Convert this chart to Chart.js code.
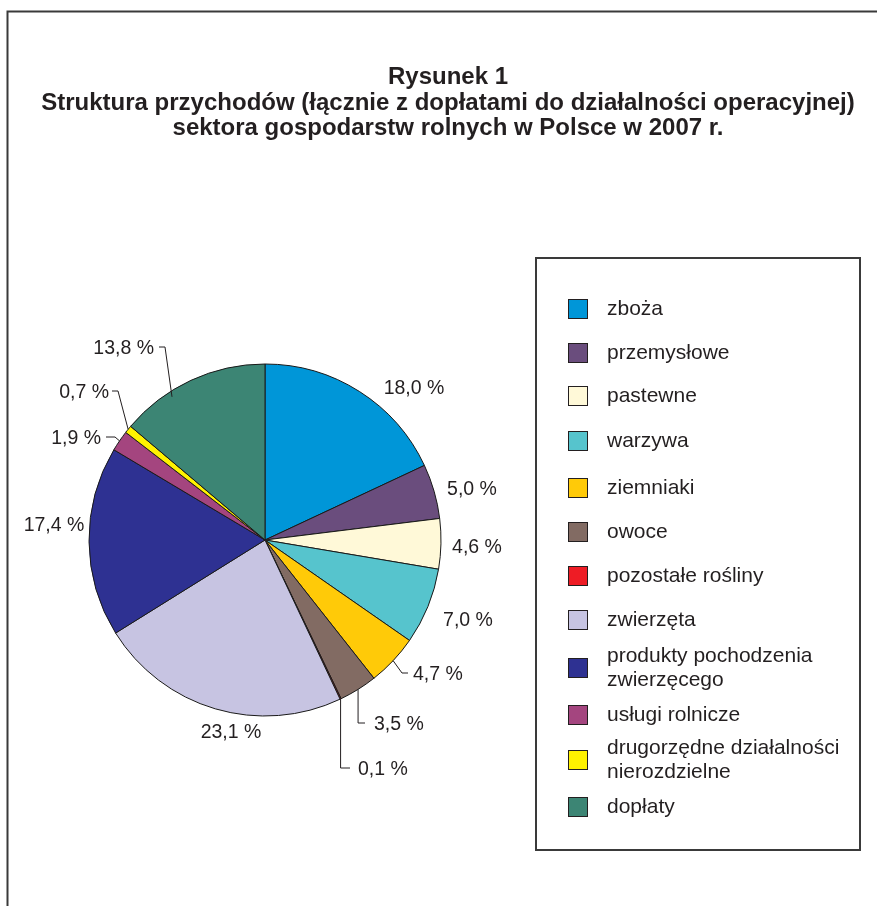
<!DOCTYPE html>
<html lang="pl">
<head>
<meta charset="utf-8">
<title>Struktura przychodów sektora gospodarstw rolnych w Polsce w 2007 r.</title>
<script src="https://cdn.jsdelivr.net/npm/chart.js@4.4.1/dist/chart.umd.min.js"></script>
<style>
  html, body { margin: 0; padding: 0; background: #ffffff; }
  #wrap { position: relative; width: 877px; height: 906px; }
  canvas { display: block; }
</style>
</head>
<body>
<div id="wrap"><canvas id="chart" width="877" height="906"></canvas></div>
<script>
// Revenue structure of Polish farms, 2007 (% of total, incl. operating subsidies)
const categories = [
  'zboża',
  'przemysłowe',
  'pastewne',
  'warzywa',
  'ziemniaki',
  'owoce',
  'pozostałe rośliny',
  'zwierzęta',
  ['produkty pochodzenia', 'zwierzęcego'],
  'usługi rolnicze',
  ['drugorzędne działalności', 'nierozdzielne'],
  'dopłaty'
];
const shares = [18.0, 5.0, 4.6, 7.0, 4.7, 3.5, 0.1, 23.1, 17.4, 1.9, 0.7, 13.8];
const sliceColors = [
  '#0096d8', '#6a4d7d', '#fff9d8', '#56c4cd', '#ffca08', '#826b63',
  '#ee1c25', '#c7c4e2', '#2e3192', '#a4457f', '#fff200', '#3c8574'
];
const titleLines = [
  'Rysunek 1',
  'Struktura przychodów (łącznie z dopłatami do działalności operacyjnej)',
  'sektora gospodarstw rolnych w Polsce w 2007 r.'
];

const INK = '#231f20';
const FONT = '"Liberation Sans", Arial, Helvetica, sans-serif';

// Where each percentage label sits, relative to the pie centre (px),
// and how its leader line is routed.
const labelPlacement = [
  { dx: 149, dy: -153, align: 'center' },
  { dx: 207, dy: -52,  align: 'center' },
  { dx: 212, dy: 6,    align: 'center' },
  { dx: 203, dy: 79,   align: 'center' },
  { dx: 148, dy: 133,  align: 'left',  leader: { elbow: 11, gap: 5 } },
  { dx: 109, dy: 183,  align: 'left',  leader: { elbow: 'vertical', gap: 9 } },
  { dx: 93,  dy: 228,  align: 'left',  leader: { elbow: 'vertical', gap: 8 } },
  { dx: -34, dy: 191,  align: 'center' },
  { dx: -211, dy: -16, align: 'center' },
  { dx: -164, dy: -103, align: 'right', leader: { elbow: 14, gap: 5 } },
  { dx: -156, dy: -149, align: 'right', leader: { elbow: 9, gap: 3 } },
  { dx: -111, dy: -193, align: 'right', leader: { elbow: 11, gap: 5, t: 0.337, r: 0.97 } }
];

// Vertical centre of each legend row inside the framed key
const legendRowY = [309, 353, 396, 441, 488, 532, 576, 620, 668, 715, 760, 807];

const fmtPct = v => v.toFixed(1).replace('.', ',') + ' %';

// Outer frame and centred multi-line heading
const framePlugin = {
  id: 'frameAndTitle',
  beforeDraw(chart) {
    const ctx = chart.ctx;
    ctx.save();
    ctx.fillStyle = '#ffffff';
    ctx.fillRect(0, 0, chart.width, chart.height);
    ctx.strokeStyle = '#3a3a3a';
    ctx.lineWidth = 2;
    ctx.strokeRect(7.5, 11.5, chart.width + 20, chart.height + 20);
    ctx.fillStyle = INK;
    ctx.font = 'bold 24px ' + FONT;
    ctx.textAlign = 'center';
    ctx.textBaseline = 'alphabetic';
    const baselines = [84, 109.5, 135];
    titleLines.forEach((line, i) => ctx.fillText(line, 448, baselines[i]));
    ctx.restore();
  }
};

// Percentage labels with leader lines
const sliceLabelPlugin = {
  id: 'sliceLabels',
  afterDatasetsDraw(chart) {
    const ctx = chart.ctx;
    const meta = chart.getDatasetMeta(0);
    const values = chart.data.datasets[0].data;
    ctx.save();
    ctx.font = '19.5px ' + FONT;
    ctx.fillStyle = INK;
    ctx.strokeStyle = INK;
    ctx.lineWidth = 1;
    ctx.textBaseline = 'alphabetic';
    meta.data.forEach((arc, i) => {
      const p = arc.getProps(['x', 'y', 'startAngle', 'endAngle', 'outerRadius'], true);
      const place = labelPlacement[i];
      const tx = p.x + place.dx;
      const ty = p.y + place.dy;
      const text = fmtPct(values[i]);
      ctx.textAlign = place.align;
      ctx.fillText(text, tx, ty + 7);
      if (place.leader) {
        const L = place.leader;
        const t = L.t !== undefined ? L.t : 0.5;
        const rr = (L.r !== undefined ? L.r : 1) * p.outerRadius;
        const a = p.startAngle + (p.endAngle - p.startAngle) * t;
        const tipX = p.x + rr * Math.cos(a);
        const tipY = p.y + rr * Math.sin(a);
        const side = place.align === 'left' ? -1 : 1;
        const endX = tx + side * L.gap;
        const elbowX = L.elbow === 'vertical' ? tipX : tx + side * L.elbow;
        ctx.beginPath();
        ctx.moveTo(tipX, tipY);
        ctx.lineTo(elbowX, ty);
        ctx.lineTo(endX, ty);
        ctx.stroke();
      }
    });
    ctx.restore();
  }
};

// Boxed legend on the right, built from the chart's own labels and colours
const boxLegendPlugin = {
  id: 'boxLegend',
  afterDraw(chart) {
    const ctx = chart.ctx;
    const labels = chart.data.labels;
    const colors = chart.data.datasets[0].backgroundColor;
    ctx.save();
    ctx.strokeStyle = '#3a3a3a';
    ctx.lineWidth = 2;
    ctx.strokeRect(536, 258, 324, 592);
    ctx.font = '21px ' + FONT;
    ctx.textAlign = 'left';
    ctx.textBaseline = 'alphabetic';
    labels.forEach((lab, i) => {
      const lines = Array.isArray(lab) ? lab : [lab];
      const cy = legendRowY[i];
      ctx.fillStyle = colors[i];
      ctx.fillRect(568, cy - 10, 20, 20);
      ctx.strokeStyle = INK;
      ctx.lineWidth = 1;
      ctx.strokeRect(568.5, cy - 9.5, 19, 19);
      ctx.fillStyle = INK;
      lines.forEach((ln, k) => {
        const by = cy + 6 + (k - (lines.length - 1) / 2) * 23.3;
        ctx.fillText(ln, 607, by);
      });
    });
    ctx.restore();
  }
};

new Chart(document.getElementById('chart'), {
  type: 'pie',
  data: {
    labels: categories,
    datasets: [{
      data: shares,
      backgroundColor: sliceColors,
      borderColor: '#1a1a1a',
      borderWidth: 1,
      radius: 176
    }]
  },
  options: {
    responsive: false,
    animation: false,
    layout: { padding: { left: 0, right: 347, top: 240, bottom: 66 } },
    plugins: {
      legend: { display: false },
      tooltip: { enabled: false },
      title: { display: false }
    }
  },
  plugins: [framePlugin, sliceLabelPlugin, boxLegendPlugin]
});
</script>
</body>
</html>
